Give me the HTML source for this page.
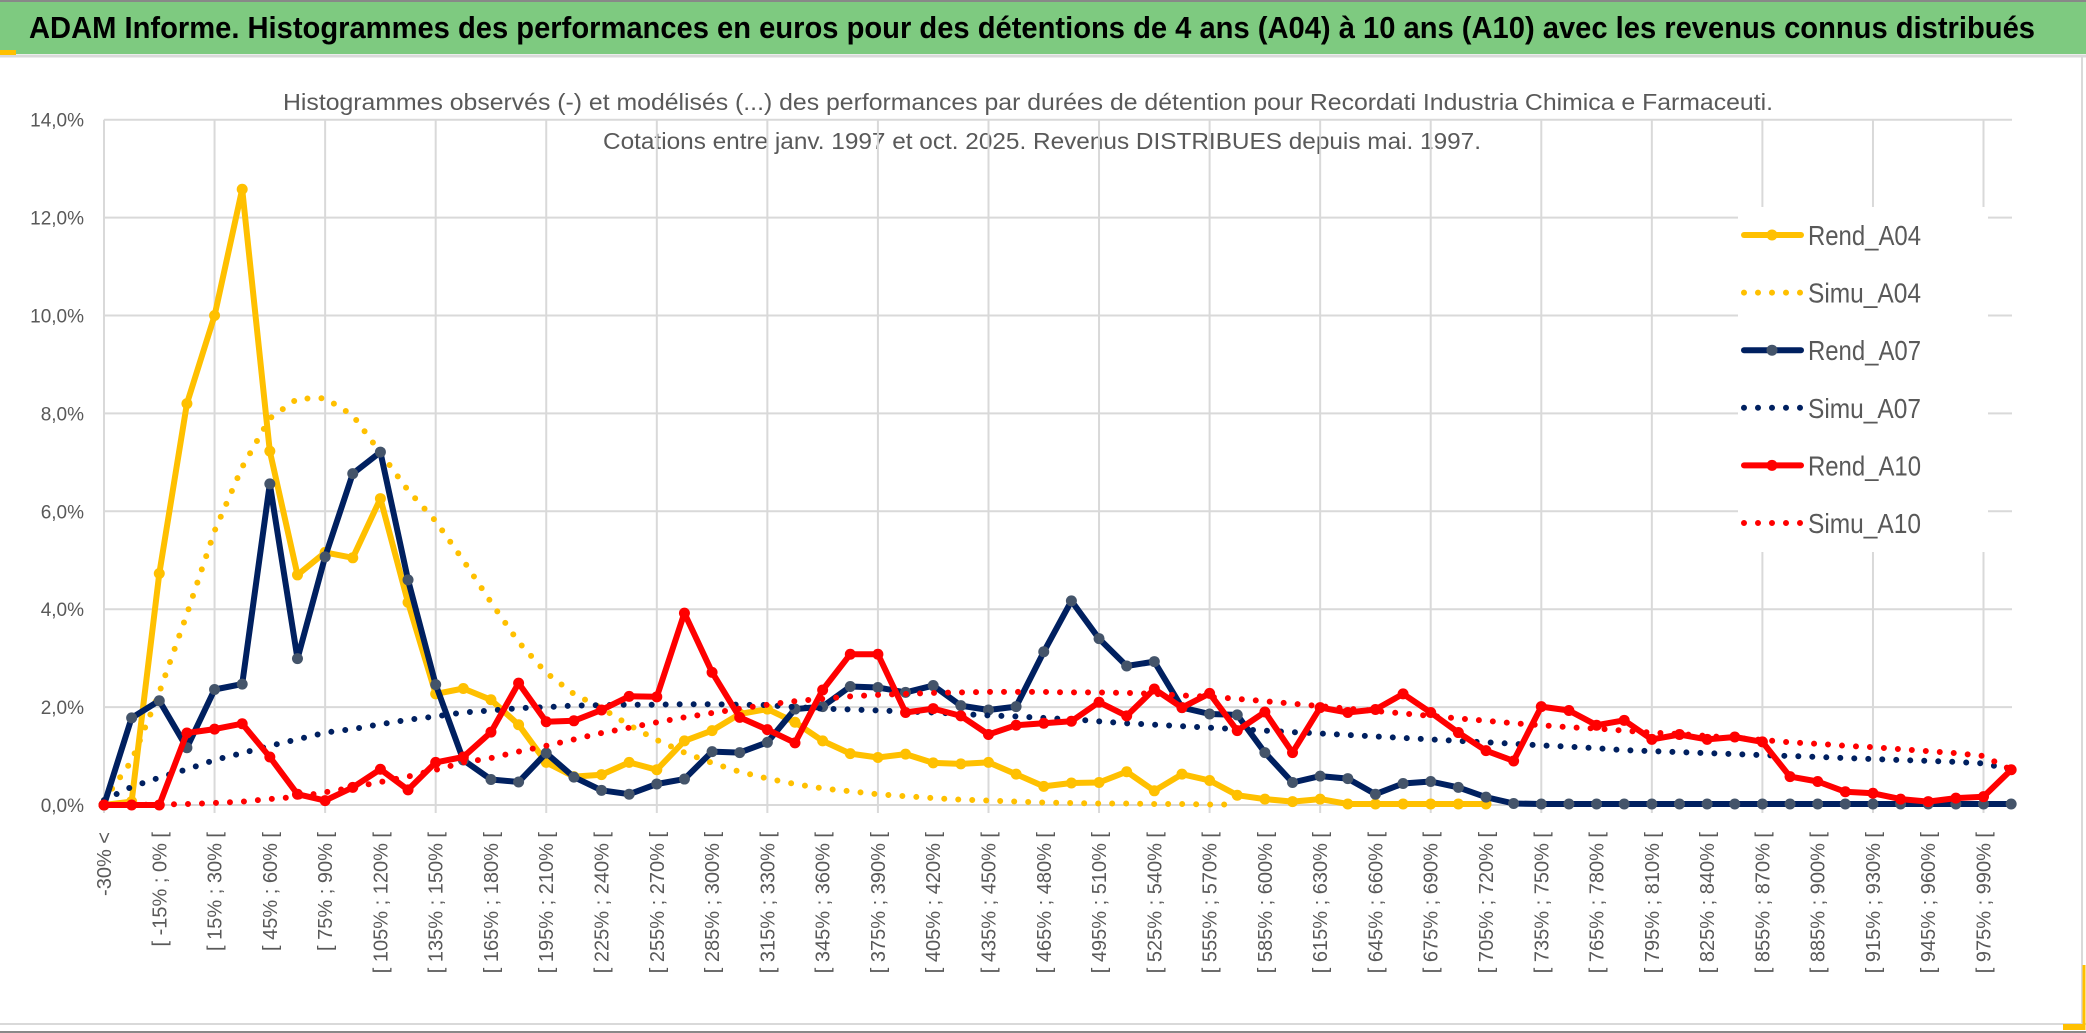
<!DOCTYPE html>
<html><head><meta charset="utf-8">
<style>
html,body{margin:0;padding:0;background:#fff;}
svg{display:block;}
text{font-family:"Liberation Sans Narrow","Liberation Sans",sans-serif;}
</style></head>
<body>
<svg id="chart" width="2086" height="1033" viewBox="0 0 2086 1033" xmlns="http://www.w3.org/2000/svg">
  <rect x="0" y="0" width="2086" height="1033" fill="#fff"/>
  <rect x="0" y="0" width="2086" height="54" fill="#7ECA80"/>
  <line x1="0" y1="1" x2="2086" y2="1" stroke="#888" stroke-width="2"/>
  <line x1="0" y1="56" x2="2086" y2="56" stroke="#d9d9d9" stroke-width="3"/>
  <rect x="0" y="50" width="16" height="5" fill="#FFC000"/>
  <text x="29" y="38" font-size="31" font-weight="bold" fill="#000" textLength="2006" lengthAdjust="spacingAndGlyphs">ADAM Informe. Histogrammes des performances en euros pour des détentions de 4 ans (A04) à 10 ans (A10) avec les revenus connus distribués</text>
  <text x="283" y="110" font-size="23" fill="#595959" textLength="1490" lengthAdjust="spacingAndGlyphs">Histogrammes observés (-) et modélisés (...) des performances par durées de détention pour Recordati Industria Chimica e Farmaceuti.</text>
  <text x="603" y="149" font-size="23" fill="#595959" textLength="878" lengthAdjust="spacingAndGlyphs">Cotations entre janv. 1997 et oct. 2025. Revenus DISTRIBUES depuis mai. 1997.</text>
  <g id="grid"></g>
  <g id="yticks"></g>
  <g id="xticks"></g>
  <g id="series"></g>
  <g id="legend"></g>
  <line x1="0" y1="1024" x2="2086" y2="1024" stroke="#d9d9d9" stroke-width="2"/>
  <line x1="0" y1="1032" x2="2086" y2="1032" stroke="#888" stroke-width="2"/>
  <line x1="2082" y1="56" x2="2082" y2="1024" stroke="#d9d9d9" stroke-width="2"/>
  <line x1="2084" y1="965" x2="2084" y2="1030" stroke="#FFC000" stroke-width="3"/>
  <rect x="2063" y="1024" width="21" height="6" fill="#FFC000"/>
</svg>
<script>
const N = 70;
const yTicks = [0,2,4,6,8,10,12,14];
const yTickLabels = ["0,0%","2,0%","4,0%","6,0%","8,0%","10,0%","12,0%","14,0%"];
const categories = ["-30% <"];
for (let i = 1; i < N; i++) { const a = -30 + 15*(i-1); categories.push("[ " + a + "% ; " + (a+15) + "% ["); }

const rendA04 = [0,0.07,4.73,8.2,10.0,12.58,7.23,4.7,5.16,5.05,6.26,4.14,2.27,2.38,2.15,1.64,0.87,0.58,0.62,
 0.87,0.72,1.31,1.52,1.86,1.96,1.69,1.31,1.05,0.97,1.04,0.86,0.84,0.87,0.63,0.38,0.45,0.46,
 0.68,0.29,0.63,0.5,0.2,0.12,0.07,0.12,0.02,0.02,0.02,0.02,0.02,0.02,
 null,null,null,null,null,null,null,null,null,null,null,null,null,null,null,null,null,null,null];
const simuA04 = [0.1,0.9,2.3,3.9,5.6,6.9,7.9,8.3,8.31,7.96,7.2,6.43,5.8,5.0,4.14,3.33,2.7,2.27,1.98,
 1.63,1.33,1.07,0.86,0.68,0.54,0.43,0.34,0.28,0.22,0.18,0.14,0.11,0.09,0.07,0.05,0.04,0.03,0.03,0.02,0.02,0.01,0.01,
 null,null,null,null,null,null,null,null,null,null,null,null,null,null,null,null,null,null,null,null,null,null,null,null,null,null,null,null];
const rendA07 = [0,1.78,2.13,1.17,2.36,2.47,6.56,2.99,5.07,6.77,7.21,4.6,2.46,0.92,0.52,0.47,1.06,0.57,0.3,
 0.22,0.43,0.53,1.09,1.07,1.28,1.96,2.01,2.42,2.4,2.3,2.44,2.03,1.94,2.01,3.13,4.17,3.4,
 2.84,2.93,1.99,1.86,1.84,1.07,0.46,0.59,0.54,0.22,0.44,0.48,0.36,0.16,0.03,
 0.02,0.02,0.02,0.02,0.02,0.02,0.02,0.02,0.02,0.02,0.02,0.02,0.02,0.02,0.02,0.02,0.02,0.02];
const simuA07 = [0.1,0.37,0.56,0.73,0.92,1.06,1.21,1.34,1.48,1.55,1.65,1.74,1.81,1.89,1.93,1.98,2.0,2.03,2.04,
 2.05,2.05,2.06,2.06,2.05,2.04,2.0,1.97,1.95,1.93,1.91,1.89,1.86,1.83,1.81,1.78,1.75,1.71,
 1.67,1.64,1.61,1.58,1.55,1.52,1.49,1.46,1.43,1.40,1.37,1.34,1.31,1.28,1.25,1.22,1.19,1.16,
 1.12,1.10,1.08,1.06,1.04,1.02,1.0,0.98,0.96,0.94,0.92,0.9,0.88,0.85,0.72];
const rendA10 = [0,0,0,1.47,1.55,1.66,0.98,0.22,0.09,0.36,0.73,0.31,0.87,0.98,1.49,2.49,1.7,1.72,1.94,
 2.22,2.21,3.92,2.71,1.79,1.54,1.27,2.35,3.08,3.08,1.89,1.97,1.82,1.44,1.63,1.67,1.71,2.1,
 1.82,2.37,1.99,2.28,1.52,1.9,1.07,1.99,1.89,1.95,2.27,1.89,1.48,1.11,0.9,2.01,1.93,1.63,
 1.73,1.34,1.44,1.34,1.39,1.29,0.58,0.48,0.27,0.24,0.12,0.07,0.14,0.17,0.72];
const simuA10 = [0,0,0.01,0.02,0.04,0.07,0.12,0.17,0.26,0.36,0.47,0.58,0.72,0.87,0.96,1.09,1.21,1.34,1.47,
 1.58,1.69,1.79,1.88,1.97,2.05,2.12,2.17,2.22,2.25,2.27,2.29,2.3,2.31,2.31,2.31,2.3,2.3,
 2.29,2.27,2.24,2.21,2.17,2.12,2.07,2.02,1.97,1.92,1.87,1.82,1.77,1.72,1.67,1.63,1.59,1.56,
 1.52,1.48,1.45,1.41,1.37,1.33,1.28,1.25,1.21,1.18,1.14,1.1,1.06,1.0,0.72];
const seriesNames = ["Rend_A04","Simu_A04","Rend_A07","Simu_A07","Rend_A10","Simu_A10"];

const NS = "http://www.w3.org/2000/svg";
const X0 = 104, DX = 27.64, Y0 = 805, PX_PER_PCT = 48.95, XR = 2012;
function xPos(i){ return X0 + DX*i; }
function yPos(v){ return Y0 - v*PX_PER_PCT; }
function mk(tag, attrs, parent){ const e=document.createElementNS(NS,tag); for(const k in attrs) e.setAttribute(k,attrs[k]); parent.appendChild(e); return e; }

const grid = document.getElementById('grid');
yTicks.forEach((t,k)=>{
  const l = mk('line',{x1:X0,x2:XR,y1:yPos(t),y2:yPos(t),stroke:'#d9d9d9','stroke-width':2},grid);
  
  
  const tx = mk('text',{x:84,y:yPos(t)+7,'font-size':19,'text-anchor':'end',fill:'#595959'},document.getElementById('yticks'));
  tx.textContent = yTickLabels[k];
  
  
});
for(let i=0;i<N;i+=4){
  const l = mk('line',{x1:xPos(i),x2:xPos(i),y1:yPos(14),y2:Y0+8,stroke:'#d9d9d9','stroke-width':2},grid);
  
  
}
const xt = document.getElementById('xticks');
for(let i=0;i<N;i+=2){
  const x = xPos(i)+7, y = 832;
  const t = mk('text',{x:x,y:y,'font-size':20,'text-anchor':'end',fill:'#595959',transform:`rotate(-90 ${x} ${y})`},xt);
  t.textContent = categories[i];
  
  
}

function pathFor(vals){
  let d='', pen=false;
  vals.forEach((v,i)=>{ if(v===null){pen=false;return;} d += (pen?'L':'M')+xPos(i).toFixed(1)+' '+yPos(v).toFixed(1)+' '; pen=true; });
  return d;
}
const sg = document.getElementById('series');
function drawSolid(vals,color,mcolor,name){
  const g = mk('g',{},sg);
  
  
  const p = mk('path',{d:pathFor(vals),fill:'none',stroke:color,'stroke-width':6,'stroke-linejoin':'round','stroke-linecap':'round'},g);
  
  
  vals.forEach((v,i)=>{ if(v===null) return;
    const c = mk('circle',{cx:xPos(i),cy:yPos(v),r:5.5,fill:mcolor},g);
    
    
  });
}
function drawDotted(vals,color,name){
  const p = mk('path',{d:pathFor(vals),fill:'none',stroke:color,'stroke-width':6,'stroke-linecap':'round','stroke-dasharray':'0 14'},sg);
  
  
}
drawSolid(rendA04,'#FFC000','#FFC000','rend-a04');
drawDotted(simuA04,'#FFC000','simu-a04');
drawSolid(rendA07,'#002060','#44546A','rend-a07');
drawDotted(simuA07,'#002060','simu-a07');
drawSolid(rendA10,'#FF0000','#FF0000','rend-a10');
drawDotted(simuA10,'#FF0000','simu-a10');

const lg = document.getElementById('legend');
const bg = mk('rect',{x:1738,y:207,width:250,height:345,fill:'#fff'},lg);


const legColors = ['#FFC000','#FFC000','#002060','#002060','#FF0000','#FF0000'];
const legMarker = ['#FFC000',null,'#44546A',null,'#FF0000',null];
seriesNames.forEach((n,k)=>{
  const y = 235 + 57.6*k;
  const g = mk('g',{},lg);
  
  
  if(legMarker[k]){
    mk('line',{x1:1744,x2:1801,y1:y,y2:y,stroke:legColors[k],'stroke-width':6,'stroke-linecap':'round'},g);
    mk('circle',{cx:1772,cy:y,r:5.5,fill:legMarker[k]},g);
  } else {
    mk('line',{x1:1744,x2:1801,y1:y,y2:y,stroke:legColors[k],'stroke-width':6,'stroke-linecap':'round','stroke-dasharray':'0 14'},g);
  }
  const t = mk('text',{x:1808,y:y+10,'font-size':28,fill:'#595959',textLength:113,lengthAdjust:'spacingAndGlyphs'},g);
  t.textContent = n;
});
</script>
</body></html>
